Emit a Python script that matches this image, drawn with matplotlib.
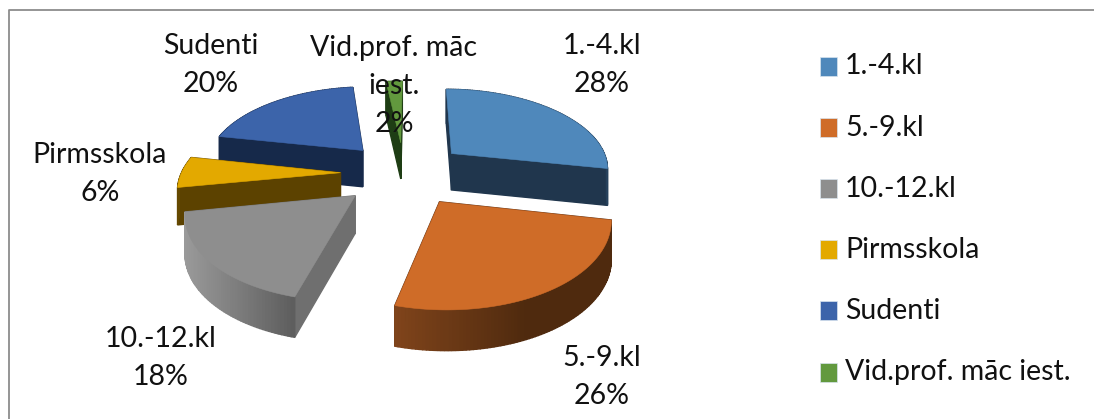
import numpy as np
import matplotlib
matplotlib.use("Agg")
import matplotlib.pyplot as plt
from matplotlib.patches import Polygon, Rectangle

labels = ["1.-4.kl", "5.-9.kl", "10.-12.kl", "Pirmsskola", "Sudenti", "Vid.prof. māc iest."]
values = [28, 26, 18, 6, 20, 2]
colors = ["#4f88bb", "#cf6c28", "#8e8e8e", "#e3a900", "#3c64aa", "#62993e"]
cut_colors = ["#20364d", "#57290c", "#6f6f6f", "#5c4200", "#16294a", "#1e3d14"]
arc_light = ["#2c4a68", "#80441b", "#9a9a9a", "#6e5000", "#1d3358", "#2c5519"]
arc_dark = ["#1f3850", "#4f2a0e", "#5c5c5c", "#5c4200", "#16294a", "#1e3d14"]

# data label text, centre position in pixels
pie_text = ["1.-4.kl\n28%", "5.-9.kl\n26%", "10.-12.kl\n18%", "Pirmsskola\n6%", "Sudenti\n20%", "Vid.prof. māc\niest.\n2%"]
pie_text_xy = [(602, 65), (602, 377), (161, 358), (100, 174), (211, 65), (394, 86)]

W, H = 1094, 419
FONT = "Lato"
FS = 20.5

# pie model
CX, CY = 404, 173
R = 159
TILT = 0.505
PERSP = 0.16
DEPTH = 37
EXPLODE = 0.40
START = 0.5


def project(gx, gy, drop=0.0):
    w = 1 / (1 + PERSP * gy)
    return CX + R * gx * w, CY - R * TILT * gy * w + drop * DEPTH * w ** 0.4


def mix(c1, c2, t):
    a = np.array(matplotlib.colors.to_rgb(c1))
    b = np.array(matplotlib.colors.to_rgb(c2))
    return tuple(a + (b - a) * t)


fig = plt.figure(figsize=(W / 100, H / 100), dpi=100)
ax = fig.add_axes([0, 0, 1, 1])
ax.set_xlim(0, W)
ax.set_ylim(H, 0)
ax.axis("off")

# chart frame, only top and left edges show
ax.plot([8.5, 8.5, W + 5], [H + 5, 10.5, 10.5], color="#8c8c8c", lw=1.3)

shares = np.array(values) / sum(values) * 360
ends = START + np.cumsum(shares)
starts = ends - shares
# back slices first
order = sorted(range(len(values)), key=lambda i: np.cos(np.radians((starts[i] + ends[i]) / 2)), reverse=True)
for i in order:
    a0, a1 = starts[i], ends[i]
    mid = np.radians((a0 + a1) / 2)
    ox, oy = EXPLODE * np.sin(mid), EXPLODE * np.cos(mid)
    th = np.radians(np.linspace(a0, a1, max(int(a1 - a0), 4)))
    gx = ox + np.sin(th)
    gy = oy + np.cos(th)

    faces = []
    for k in range(len(th) - 1):
        quad = [project(gx[k], gy[k]), project(gx[k + 1], gy[k + 1]),
                project(gx[k + 1], gy[k + 1], 1), project(gx[k], gy[k], 1)]
        # side shading, lighter at the front left
        px = np.mean([q[0] for q in quad])
        t = 0.5
        if i == 1:
            t = np.clip((px - 395) / 130, 0, 1)
        elif i == 2:
            t = np.clip((px - 186) / 111, 0, 1)
        faces.append((gy[k] + gy[k + 1], quad, mix(arc_light[i], arc_dark[i], t)))
    for gxe, gye in [(gx[0], gy[0]), (gx[-1], gy[-1])]:
        quad = [project(ox, oy), project(gxe, gye), project(gxe, gye, 1), project(ox, oy, 1)]
        faces.append((oy + gye, quad, cut_colors[i]))
    for _, quad, col in sorted(faces, key=lambda f: -f[0]):
        ax.add_patch(Polygon(quad, closed=True, fc=col, ec=col, lw=1.0))

    top = [project(ox, oy)] + [project(x, y) for x, y in zip(gx, gy)]
    ax.add_patch(Polygon(top, closed=True, fc=colors[i], ec=colors[i], lw=0.4))

for txt, (x, y) in zip(pie_text, pie_text_xy):
    ax.text(x, y, txt, ha="center", va="center", fontsize=FS, family=FONT, color="#111111", linespacing=1.58)

# legend
leg_y = np.linspace(66.5, 372, len(labels))
for name, col, y in zip(labels, colors, leg_y):
    ax.add_patch(Rectangle((820, y - 9.5), 17, 19, fc=col, ec="#d8e4ee", lw=0.5))
    ax.text(845, y, name, ha="left", va="center", fontsize=FS, family=FONT, color="#111111")

fig.savefig("out.png", dpi=100)
